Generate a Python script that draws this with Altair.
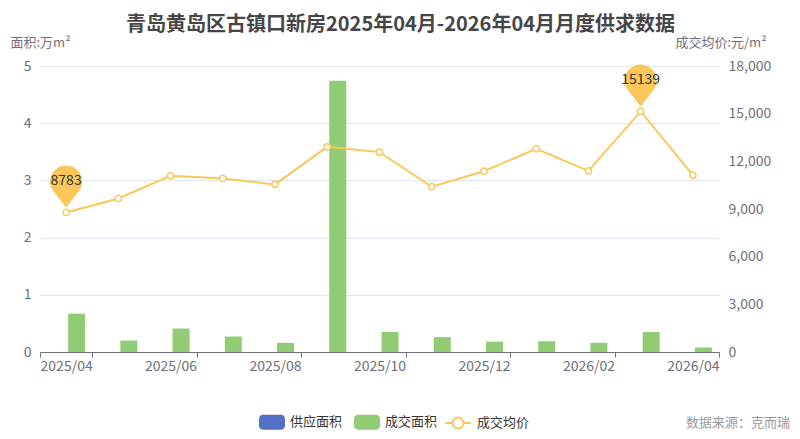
import altair as alt
import pandas as pd

months = ["2025/04", "2025/05", "2025/06", "2025/07", "2025/08", "2025/09", "2025/10",
          "2025/11", "2025/12", "2026/01", "2026/02", "2026/03", "2026/04"]
supply_area = [0, 0, 0, 0, 0, 0, 0, 0, 0, 0, 0, 0, 0]
deal_area = [0.67, 0.20, 0.41, 0.27, 0.16, 4.74, 0.35, 0.26, 0.18, 0.19, 0.16, 0.35, 0.08]
deal_price = [8783, 9660, 11090, 10920, 10550, 12910, 12580, 10400, 11380, 12790, 11400, 15139, 11130]
tick_months = ["2025/04", "2025/06", "2025/08", "2025/10", "2025/12", "2026/02", "2026/04"]

FONT = "Noto Sans CJK SC"
BLUE, GREEN, YELLOW = "#5470c6", "#91cc75", "#fac858"

bars_df = pd.DataFrame({
    "month": months * 2,
    "series": ["供应面积"] * len(months) + ["成交面积"] * len(months),
    "value": supply_area + deal_area,
})
price_df = pd.DataFrame({"month": months, "price": deal_price, "series": "成交均价"})

x_scale = alt.Scale(domain=months, paddingInner=0, paddingOuter=0)
x_axis = alt.Axis(values=tick_months, title=None, labelAngle=0, tickBand="extent",
                  domainColor="#6e7079", tickColor="#6e7079", tickSize=5,
                  labelColor="#6e7079", labelFontSize=14, labelPadding=2, grid=False)

rect_path = ("M-0.7,-0.58 L0.7,-0.58 A0.3,0.3 0 0 1 1,-0.28 L1,0.28 A0.3,0.3 0 0 1 0.7,0.58 "
             "L-0.7,0.58 A0.3,0.3 0 0 1 -1,0.28 L-1,-0.28 A0.3,0.3 0 0 1 -0.7,-0.58 Z")
line_path = ("M-1,0 L-0.42,0 M0.42,0 L1,0 M0.42,0 A0.42,0.42 0 1 1 -0.42,0 "
             "A0.42,0.42 0 1 1 0.42,0 Z")
pin_path = "M0,-0.31 L-0.79,-1.327 A1,1 0 1 1 0.79,-1.327 Z"

bars = alt.Chart(bars_df).mark_bar().encode(
    x=alt.X("month:N", scale=x_scale, axis=x_axis, sort=months),
    xOffset=alt.XOffset("series:N", sort=["供应面积", "成交面积"],
                        scale=alt.Scale(domain=["供应面积", "成交面积"], paddingInner=0.19, paddingOuter=0.338)),
    y=alt.Y("value:Q", scale=alt.Scale(domain=[0, 5]),
            axis=alt.Axis(values=[0, 1, 2, 3, 4, 5], title="面积:万m²", titleAngle=0,
                          titleX=-30, titleY=-24, titleAlign="left", titleBaseline="middle",
                          titleFontWeight="normal", titleFontSize=13, titleColor="#6e7079",
                          labelColor="#6e7079", labelFontSize=14, labelPadding=9,
                          ticks=False, domain=False, gridColor="#e0e6f1")),
    color=alt.Color("series:N", scale=alt.Scale(domain=["供应面积", "成交面积"], range=[BLUE, GREEN]),
                    legend=alt.Legend(title=None, orient="none", legendX=219, legendY=343,
                                      direction="horizontal", symbolType=rect_path, symbolSize=676,
                                      symbolStrokeWidth=0, labelFontSize=13, labelColor="#333333",
                                      labelOffset=5, columnPadding=10)),
)

price_axis = alt.Axis(values=[0, 3000, 6000, 9000, 12000, 15000, 18000], format=",d",
                      orient="right", title="成交均价:元/m²", titleAngle=0,
                      titleX=47, titleY=-24, titleAlign="right", titleBaseline="middle",
                      titleFontWeight="normal", titleFontSize=13, titleColor="#6e7079",
                      labelColor="#6e7079", labelFontSize=14, labelPadding=9,
                      ticks=False, domain=False, gridColor="#e0e6f1")
price_y = alt.Y("price:Q", scale=alt.Scale(domain=[0, 18000]), axis=price_axis)
price_stroke = alt.Stroke("series:N", scale=alt.Scale(domain=["成交均价"], range=[YELLOW]),
                          legend=alt.Legend(title=None, orient="none", legendX=404, legendY=343,
                                            symbolType=line_path, symbolSize=676,
                                            symbolFillColor="white", symbolStrokeWidth=2,
                                            labelFontSize=13, labelColor="#333333", labelOffset=5))
px = alt.X("month:N", sort=months)

line = alt.Chart(price_df).mark_line(strokeWidth=2).encode(x=px, y=price_y, stroke=price_stroke)
points = alt.Chart(price_df).mark_point(filled=False, fill="white", size=40, strokeWidth=1.5, opacity=1).encode(
    x=px, y=price_y, stroke=price_stroke)

extreme = alt.Chart(price_df).transform_joinaggregate(
    pmax="max(price)", pmin="min(price)"
).transform_filter("datum.price == datum.pmax || datum.price == datum.pmin")

pins = extreme.mark_point(shape=pin_path, size=1024, filled=True, color=YELLOW, opacity=1, strokeWidth=0).encode(
    x=px, y=price_y)
pin_text = extreme.mark_text(dy=-31, fontSize=14, color="#333333", font=FONT).encode(
    x=px, y=price_y, text=alt.Text("price:Q", format="d"))

price_layer = alt.layer(line, points, pins, pin_text)

source = alt.Chart(pd.DataFrame({"t": ["数据来源：克而瑞"]})).mark_text(
    align="right", baseline="middle", fontSize=13, color="#999999", font=FONT
).encode(x=alt.value(750), y=alt.value(357), text="t:N")

chart = alt.layer(bars, price_layer, source).resolve_scale(
    y="independent", stroke="independent", color="independent"
).properties(
    width=679, height=286,
    autosize=alt.AutoSizeParams(type="none"),
    padding={"left": 32, "top": 58, "right": 73, "bottom": 79},
    title=alt.Title("青岛黄岛区古镇口新房2025年04月-2026年04月月度供求数据", fontSize=20,
                    fontWeight="bold", color="#464646", anchor="middle", dx=21, offset=1, font=FONT),
).configure(font=FONT).configure_view(stroke=None)

chart.save("out.html", embed_options={"renderer": "svg", "actions": False})
